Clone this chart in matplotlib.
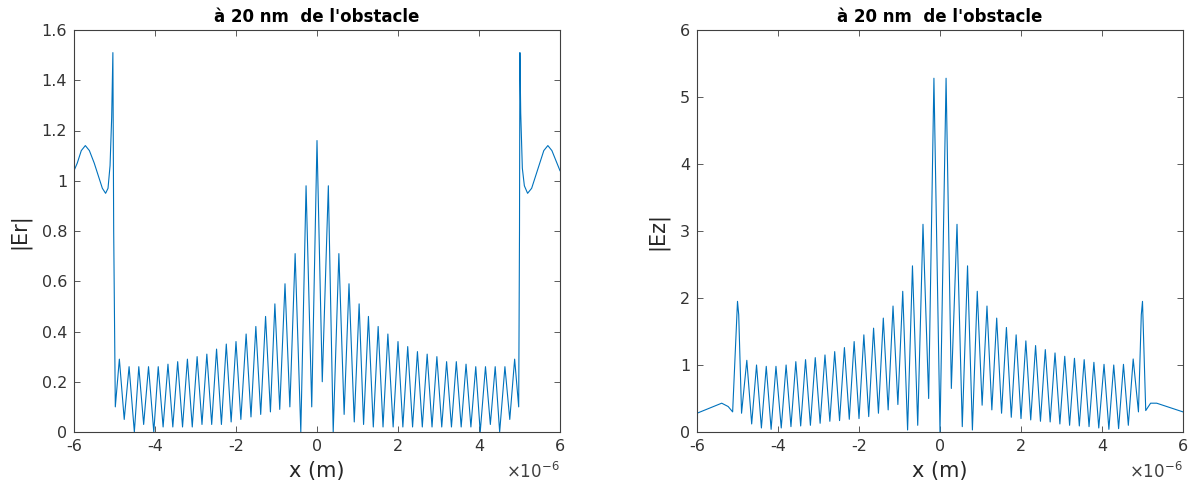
import matplotlib
matplotlib.use('Agg')
import matplotlib.pyplot as plt
from matplotlib.ticker import FuncFormatter

# |Er| turning points, x in um
er_x = [-6.0, -5.92, -5.82, -5.72, -5.62, -5.5, -5.4, -5.3, -5.22, -5.16, -5.11, -5.07, -5.04, -5.02, -4.98,
        -4.88, -4.76, -4.64, -4.51, -4.40, -4.28, -4.16, -4.03, -3.92, -3.80, -3.68, -3.56, -3.44, -3.32,
        -3.20, -3.08, -2.96, -2.84, -2.72, -2.60, -2.48, -2.36, -2.24, -2.12, -2.0, -1.88, -1.75, -1.63,
        -1.51, -1.39, -1.27, -1.15, -1.04, -0.92, -0.79, -0.67, -0.54, -0.40, -0.27, -0.13,
        0.0,
        0.13, 0.28, 0.40, 0.54, 0.67, 0.79, 0.92, 1.04, 1.15, 1.27, 1.39, 1.51, 1.63, 1.75, 1.88, 2.0,
        2.12, 2.24, 2.36, 2.48, 2.60, 2.72, 2.84, 2.96, 3.08, 3.20, 3.32, 3.44, 3.56, 3.68, 3.80, 3.92,
        4.03, 4.16, 4.28, 4.40, 4.51, 4.64, 4.76, 4.88,
        4.98, 5.0, 5.01, 5.03, 5.07, 5.12, 5.2, 5.3, 5.4, 5.5, 5.6, 5.7, 5.8, 5.9, 6.0]
er_y = [1.04, 1.07, 1.12, 1.14, 1.12, 1.07, 1.02, 0.97, 0.95, 0.97, 1.06, 1.25, 1.51, 0.80, 0.10,
        0.29, 0.05, 0.26, 0.0, 0.26, 0.03, 0.26, 0.0, 0.26, 0.02, 0.27, 0.02, 0.28, 0.02,
        0.29, 0.02, 0.30, 0.03, 0.31, 0.03, 0.33, 0.03, 0.35, 0.04, 0.36, 0.05, 0.39, 0.06,
        0.42, 0.07, 0.46, 0.08, 0.51, 0.09, 0.59, 0.10, 0.71, 0.0, 0.98, 0.10,
        1.16,
        0.20, 0.98, 0.0, 0.71, 0.07, 0.59, 0.04, 0.51, 0.03, 0.46, 0.02, 0.42, 0.02, 0.39, 0.02, 0.36,
        0.02, 0.34, 0.02, 0.32, 0.02, 0.31, 0.02, 0.30, 0.02, 0.28, 0.02, 0.28, 0.02, 0.27, 0.02, 0.26,
        0.0, 0.26, 0.03, 0.26, 0.0, 0.26, 0.05, 0.29,
        0.10, 0.80, 1.51, 1.27, 1.05, 0.98, 0.95, 0.97, 1.02, 1.07, 1.12, 1.14, 1.12, 1.08, 1.04]

# |Ez| turning points, x in um
ez_x = [-6.0, -5.39, -5.23, -5.12, -5.0, -4.97, -4.90,
        -4.77, -4.65, -4.53, -4.41, -4.29, -4.17, -4.05, -3.92, -3.80, -3.68, -3.56, -3.44, -3.32,
        -3.20, -3.08, -2.96, -2.84, -2.72, -2.60, -2.48, -2.36, -2.24, -2.12, -2.0, -1.88, -1.76,
        -1.64, -1.52, -1.40, -1.28, -1.16, -1.04, -0.92, -0.80, -0.68, -0.55, -0.42, -0.28, -0.15,
        0.0,
        0.15, 0.28, 0.42, 0.55, 0.68, 0.80, 0.92, 1.04, 1.16, 1.28, 1.40, 1.52, 1.64, 1.76, 1.88,
        2.0, 2.12, 2.24, 2.36, 2.48, 2.60, 2.72, 2.84, 2.96, 3.08, 3.20, 3.32, 3.44, 3.56, 3.68,
        3.80, 3.92, 4.05, 4.17, 4.29, 4.41, 4.53, 4.65, 4.77,
        4.90, 4.97, 5.0, 5.08, 5.20, 5.35, 6.0]
ez_y = [0.28, 0.43, 0.38, 0.30, 1.95, 1.75, 0.28,
        1.07, 0.12, 1.00, 0.06, 0.98, 0.04, 0.98, 0.06, 1.00, 0.08, 1.05, 0.09, 1.08,
        0.10, 1.11, 0.13, 1.15, 0.16, 1.20, 0.17, 1.26, 0.19, 1.35, 0.20, 1.45, 0.23,
        1.55, 0.28, 1.70, 0.33, 1.88, 0.41, 2.10, 0.03, 2.48, 0.10, 3.10, 0.50, 5.28,
        0.0,
        5.28, 0.65, 3.10, 0.08, 2.48, 0.03, 2.10, 0.40, 1.88, 0.33, 1.70, 0.28, 1.56, 0.22, 1.45,
        0.20, 1.36, 0.18, 1.29, 0.16, 1.23, 0.15, 1.18, 0.12, 1.13, 0.10, 1.10, 0.09, 1.08, 0.08,
        1.04, 0.06, 1.01, 0.04, 1.00, 0.05, 1.01, 0.10, 1.09,
        0.30, 1.75, 1.95, 0.32, 0.43, 0.43, 0.30]

x_ticks = [-6, -4, -2, 0, 2, 4, 6]
er_ticks = [0, 0.2, 0.4, 0.6, 0.8, 1.0, 1.2, 1.4, 1.6]
ez_ticks = [0, 1, 2, 3, 4, 5, 6]

plt.rcParams['font.family'] = 'DejaVu Sans'
plt.rcParams['axes.unicode_minus'] = False

line_color = '#0072BD'
frame_color = '#404040'
fmt = FuncFormatter(lambda v, p: '%g' % v)

fig = plt.figure(figsize=(11.93, 4.88), dpi=100)
ax1 = fig.add_axes([74/1193, 56/488, 486/1193, 402/488])
ax2 = fig.add_axes([697/1193, 56/488, 486/1193, 402/488])


def style(ax, xs, ys, yticks, ylabel, ytop):
	ax.plot([x*1e-6 for x in xs], ys, color=line_color, lw=0.8)
	ax.set_xlim(-6e-6, 6e-6)
	ax.set_ylim(0, ytop)
	ax.set_xticks([t*1e-6 for t in x_ticks])
	ax.set_xticklabels([str(t) for t in x_ticks])
	ax.set_yticks(yticks)
	ax.yaxis.set_major_formatter(fmt)
	ax.tick_params(direction='in', top=True, right=True, length=4, width=0.6,
				   colors=frame_color, labelcolor='#333333', labelsize=11.5, pad=5)
	for s in ax.spines.values():
		s.set_color(frame_color)
		s.set_linewidth(0.8)
	ax.set_title("à 20 nm  de l'obstacle", fontsize=12, fontweight='bold', pad=6)
	ax.set_xlabel('x (m)', fontsize=15, color='#262626', labelpad=5)
	ax.set_ylabel(ylabel, fontsize=15, color='#262626', labelpad=8)
	ax.text(1.0, -0.075, r'$\times$10$^{-6}$', transform=ax.transAxes, ha='right', va='top',
			fontsize=12, color='#404040')


style(ax1, er_x, er_y, er_ticks, '|Er|', 1.6)
style(ax2, ez_x, ez_y, ez_ticks, '|Ez|', 6)

fig.savefig('out.png', dpi=100)
